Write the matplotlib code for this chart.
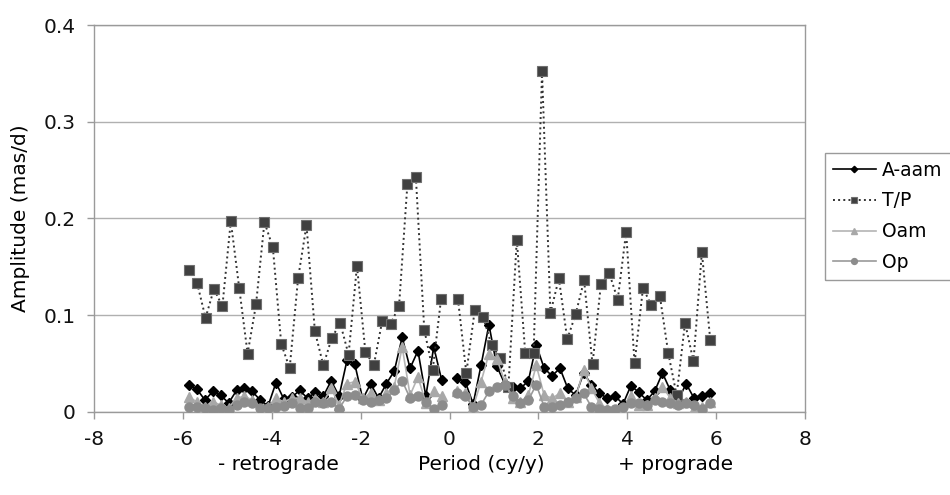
import numpy as np
import matplotlib
matplotlib.use("Agg")
import matplotlib.pyplot as plt
from matplotlib.patches import Rectangle

# frequency grids (cy/y): no point at zero, so the lines break there
step_aam = 0.1775   # A-aam, Oam, Op : 33 points each side
step_tp = 0.1893    # T/P : 31 points each side

aam_neg = [0.028, 0.023, 0.012, 0.021, 0.017, 0.009, 0.022, 0.024, 0.021, 0.012, 0.006,
           0.030, 0.013, 0.015, 0.022, 0.014, 0.020, 0.016, 0.032, 0.016, 0.053, 0.049,
           0.013, 0.029, 0.014, 0.029, 0.042, 0.077, 0.045, 0.063, 0.016, 0.067, 0.033]
aam_pos = [0.035, 0.031, 0.008, 0.048, 0.090, 0.047, 0.029, 0.026, 0.024, 0.032, 0.069,
           0.045, 0.037, 0.045, 0.024, 0.017, 0.040, 0.028, 0.019, 0.014, 0.016, 0.008,
           0.027, 0.020, 0.012, 0.021, 0.040, 0.022, 0.012, 0.029, 0.014, 0.016, 0.019]

tp_neg = [0.147, 0.133, 0.097, 0.127, 0.109, 0.197, 0.128, 0.060, 0.111, 0.196, 0.170,
          0.070, 0.045, 0.138, 0.193, 0.083, 0.048, 0.076, 0.092, 0.059, 0.151, 0.062,
          0.048, 0.094, 0.091, 0.109, 0.236, 0.243, 0.085, 0.043, 0.117]
tp_pos = [0.117, 0.040, 0.105, 0.098, 0.069, 0.056, 0.026, 0.178, 0.061, 0.061, 0.352,
          0.102, 0.138, 0.075, 0.101, 0.136, 0.049, 0.132, 0.143, 0.116, 0.186, 0.050,
          0.128, 0.110, 0.120, 0.061, 0.017, 0.092, 0.052, 0.165, 0.074]

oam_neg = [0.015, 0.010, 0.005, 0.010, 0.007, 0.004, 0.014, 0.016, 0.012, 0.003, 0.005,
           0.014, 0.010, 0.014, 0.014, 0.010, 0.013, 0.010, 0.024, 0.007, 0.029, 0.031,
           0.014, 0.019, 0.012, 0.019, 0.026, 0.067, 0.017, 0.036, 0.009, 0.021, 0.016]
oam_pos = [0.021, 0.019, 0.005, 0.031, 0.060, 0.055, 0.031, 0.014, 0.010, 0.017, 0.048,
           0.017, 0.014, 0.019, 0.010, 0.015, 0.043, 0.024, 0.009, 0.003, 0.002, 0.001,
           0.016, 0.007, 0.007, 0.014, 0.026, 0.014, 0.009, 0.010, 0.003, 0.005, 0.010]

op_neg = [0.005, 0.005, 0.004, 0.002, 0.004, 0.002, 0.007, 0.010, 0.009, 0.004, 0.004,
          0.005, 0.006, 0.009, 0.004, 0.004, 0.010, 0.009, 0.010, 0.003, 0.016, 0.017,
          0.012, 0.010, 0.012, 0.014, 0.022, 0.032, 0.014, 0.016, 0.010, 0.003, 0.007]
op_pos = [0.019, 0.016, 0.005, 0.007, 0.021, 0.026, 0.028, 0.016, 0.009, 0.012, 0.028,
          0.005, 0.005, 0.007, 0.010, 0.014, 0.019, 0.005, 0.003, 0.002, 0.003, 0.005,
          0.009, 0.009, 0.007, 0.012, 0.010, 0.009, 0.007, 0.009, 0.007, 0.003, 0.009]


def grid(step, n):
    k = np.arange(1, n + 1)
    return np.concatenate([-step * k[::-1], [np.nan], step * k])


def join(neg, pos):
    return np.concatenate([neg, [np.nan], pos])


x_aam = grid(step_aam, 33)
x_tp = grid(step_tp, 31)

plt.rcParams['font.family'] = ['DejaVu Sans']
plt.rcParams['axes.unicode_minus'] = False
fig = plt.figure(figsize=(9.5, 4.95), dpi=100)
ax = fig.add_axes([94 / 950, 1 - 411.7 / 495, (805 - 94) / 950, (411.7 - 25) / 495])

ax.plot(x_aam, join(aam_neg, aam_pos), '-', color='black', lw=1.2,
        marker='D', ms=5, mfc='black', mec='black', label='A-aam', zorder=3)
ax.plot(x_tp, join(tp_neg, tp_pos), ':', color='#333333', lw=1.4,
        marker='s', ms=7, mfc='#404040', mec='#707070', mew=0.8, label='T/P', zorder=4)
ax.plot(x_aam, join(oam_neg, oam_pos), '-', color='#b4b4b4', lw=1.2,
        marker='^', ms=7, mfc='#a8a8a8', mec='#a8a8a8', label='Oam', zorder=5)
ax.plot(x_aam, join(op_neg, op_pos), '-', color='#9a9a9a', lw=1.2,
        marker='o', ms=6.5, mfc='#8c8c8c', mec='#8c8c8c', label='Op', zorder=6)

ax.set_xlim(-8, 8)
ax.set_ylim(0, 0.4)
ax.set_xticks(range(-8, 9, 2))
ax.set_yticks([0, 0.1, 0.2, 0.3, 0.4])
ax.set_yticklabels(['0', '0.1', '0.2', '0.3', '0.4'])
ax.yaxis.grid(True, color='#b0b0b0', lw=1)
ax.set_axisbelow(True)
for s in ax.spines.values():
    s.set_color('#9a9a9a')
    s.set_linewidth(1)
ax.tick_params(axis='both', colors='#9a9a9a', length=5, width=1, labelsize=14.5,
               labelcolor='#111111', pad=8)
ax.set_ylabel('Amplitude (mas/d)', fontsize=14.5, labelpad=10)

fig.text(278 / 950, 1 - 465 / 495, '- retrograde', fontsize=14.5, ha='center', va='center')
fig.text(481 / 950, 1 - 465 / 495, 'Period (cy/y)', fontsize=14.5, ha='center', va='center')
fig.text(676 / 950, 1 - 465 / 495, '+ prograde', fontsize=14.5, ha='center', va='center')

leg = fig.legend(loc='upper left', bbox_to_anchor=(825 / 950, 1 - 153 / 495),
                 fontsize=13.5, frameon=True, fancybox=False,
                 handlelength=2.3, handletextpad=0.3, labelspacing=0.62,
                 borderpad=0.42, borderaxespad=0, markerscale=0.65)
leg.get_frame().set_visible(False)

# legend box runs off the right edge, as in the original
fig.canvas.draw()
bb = leg.get_window_extent()
fig.patches.append(Rectangle((bb.x0, bb.y0), 200, bb.height, transform=None,
                             fill=False, edgecolor='#9a9a9a', lw=1))

fig.savefig('out.png', dpi=100)
